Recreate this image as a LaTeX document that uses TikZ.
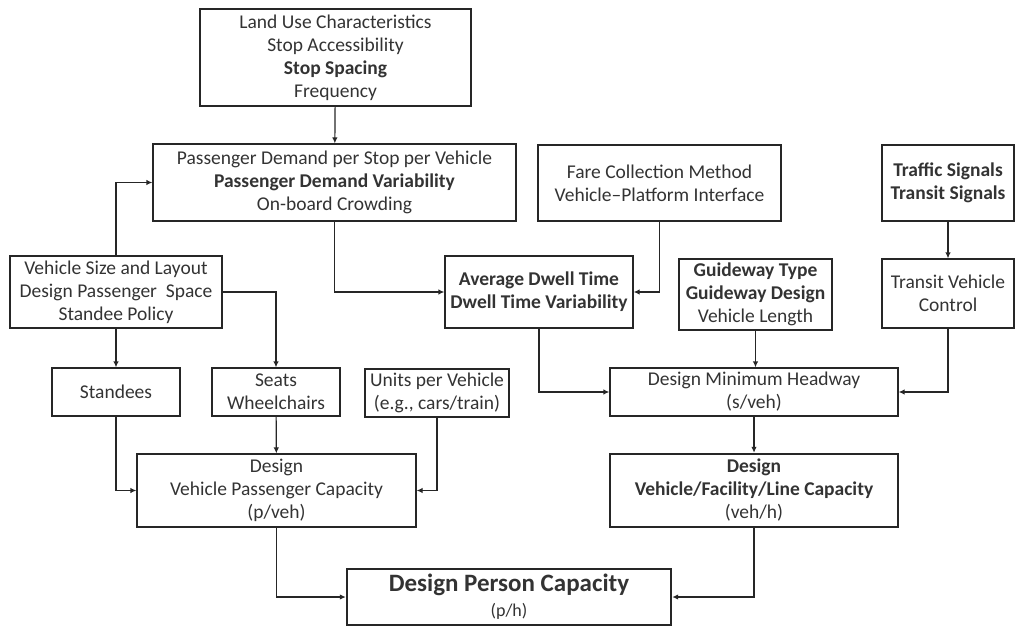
\documentclass[tikz,border=0pt]{standalone}
\usepackage{fontspec}
\setmainfont{Carlito}
\usetikzlibrary{arrows.meta}

\begin{document}
\begin{tikzpicture}[x=1pt, y=-1pt,
  box/.style={draw=black!85, line width=1.2pt, inner sep=0pt, align=center,
    text=black!80, font=\fontsize{19.5}{23}\selectfont},
  thickbox/.style={box, line width=2.4pt},
  link/.style={draw=black!85, line width=1.2pt, -{Latex[length=6pt,width=5.5pt]}}]

\useasboundingbox (0,0) rectangle (1016,628);

% top row
\node[box, minimum width=271pt, minimum height=97pt] (use) at (335.5,57.5)
  {Land Use Characteristics\\Stop Accessibility\\\textbf{Stop Spacing}\\Frequency};
\node[box, minimum width=363pt, minimum height=77pt] (demand) at (334.5,182.5)
  {Passenger Demand per Stop per Vehicle\\\textbf{Passenger Demand Variability}\\On-board Crowding};
\node[box, minimum width=243pt, minimum height=76pt] (fare) at (659.5,183)
  {Fare Collection Method\\Vehicle--Platform Interface};
\node[box, minimum width=132pt, minimum height=76pt] (signals) at (948,183)
  {\textbf{Traffic Signals}\\\textbf{Transit Signals}};

% middle row
\node[box, minimum width=212pt, minimum height=72pt] (vsize) at (116,292)
  {Vehicle Size and Layout\\Design Passenger\ \ Space\\Standee Policy};
\node[box, minimum width=188pt, minimum height=72pt] (dwell) at (539,292)
  {\textbf{Average Dwell Time}\\\textbf{Dwell Time Variability}};
\node[box, minimum width=153pt, minimum height=71pt] (guide) at (755.5,294.5)
  {\textbf{Guideway Type}\\\textbf{Guideway Design}\\Vehicle Length};
\node[box, minimum width=132pt, minimum height=69pt] (control) at (948,293.5)
  {Transit Vehicle\\Control};

% lower rows
\node[box, minimum width=128pt, minimum height=48pt] (standees) at (116,392) {Standees};
\node[box, minimum width=128pt, minimum height=48pt] (seats) at (276,392) {Seats\\Wheelchairs};
\node[box, minimum width=144pt, minimum height=48pt] (units) at (437,393)
  {Units per Vehicle\\(e.g., cars/train)};
\node[box, minimum width=288pt, minimum height=48pt] (headway) at (754,392)
  {Design Minimum Headway\\(s/veh)};
\node[box, minimum width=279pt, minimum height=73pt] (vpc) at (276.5,490.5)
  {Design\\Vehicle Passenger Capacity\\(p/veh)};
\node[thickbox, minimum width=288pt, minimum height=73pt] (vfl) at (754,490.5)
  {\textbf{Design}\\\textbf{Vehicle/Facility/Line Capacity}\\(veh/h)};
\node[thickbox, minimum width=324pt, minimum height=56pt] (dpc) at (509,597)
  {{\fontsize{25}{27}\selectfont\bfseries Design Person Capacity}\\[2pt]{\fontsize{18}{19}\selectfont (p/h)}};

% connectors
\draw[link] (use) -- (demand);
\draw[link] (vsize.north) |- (demand.west);
\draw[link] (vsize) -- (standees);
\draw[link] (vsize.east) -| (seats.north);
\draw[link] (demand.south) |- (dwell.west);
\draw[link] (fare.south) |- (dwell.east);
\draw[link] (signals) -- (control);
\draw[link] (dwell.south) |- (headway.west);
\draw[link] (guide.south) -- (guide.south |- headway.north);
\draw[link] (control.south) |- (headway.east);
\draw[link] (standees.south) |- (vpc.west);
\draw[link] (seats) -- (vpc);
\draw[link] (units.south) |- (vpc.east);
\draw[link] (headway) -- (vfl);
\draw[link] (vpc.south) |- (dpc.west);
\draw[link] (vfl.south) |- (dpc.east);
\end{tikzpicture}
\end{document}
